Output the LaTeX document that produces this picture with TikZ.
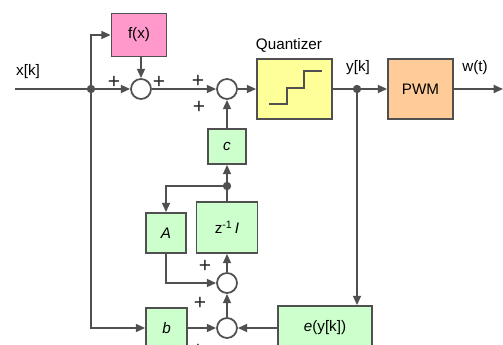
\documentclass[tikz,border=0pt]{standalone}
\usepackage{fontspec}
\setmainfont{Liberation Sans}
\usetikzlibrary{arrows.meta, positioning, calc}
\definecolor{lineGray}{HTML}{505050}
\definecolor{fxPink}{HTML}{FF99CC}
\definecolor{quantYellow}{HTML}{FFFF99}
\definecolor{pwmOrange}{HTML}{FFCC99}
\definecolor{blockGreen}{HTML}{CCFFCC}

\begin{document}
\begin{tikzpicture}[x=0.03cm, y=-0.03cm,
    block/.style={rectangle, draw=lineGray, line width=1.5pt, fill=blockGreen,
                  font=\fontsize{13}{15}\selectfont, inner sep=0pt},
    sumnode/.style={circle, draw=lineGray, line width=1.5pt, fill=white,
                    minimum size=0.6cm, inner sep=0pt},
    dot/.style={circle, fill=lineGray, minimum size=0.25cm, inner sep=0pt},
    arrow/.style={-{Triangle[length=2.8mm, width=2.4mm]}, line width=1.5pt, color=lineGray},
    wire/.style={line width=1.5pt, color=lineGray},
    lbl/.style={font=\fontsize{13}{15}\selectfont, inner sep=0pt},
    plus/.style={font=\fontsize{18}{20}\selectfont, text=black!85, inner sep=0pt},
]
\useasboundingbox (0,0) rectangle (503,345);
% blocks
\node[block, fill=fxPink, minimum width=1.65cm, minimum height=1.29cm] (fx) at (139,35) {f(x)};
\node[block, fill=quantYellow, minimum width=2.25cm, minimum height=1.8cm] (quant) at (294.5,89) {};
\node[block, fill=pwmOrange, minimum width=1.95cm, minimum height=1.8cm] (pwm) at (420.5,89) {PWM};
\node[block, minimum width=1.14cm, minimum height=1.05cm] (cblk) at (227,146.5) {\textit{c}};
\node[block, minimum width=1.2cm, minimum height=1.2cm] (ablk) at (166,233) {\textit{A}};
\node[block, minimum width=1.83cm, minimum height=1.53cm] (zblk) at (227,227.5) {z\textsuperscript{-1}\,\textit{I}};
\node[block, minimum width=1.23cm, minimum height=1.2cm] (bblk) at (166.5,328) {\textit{b}};
\node[block, minimum width=2.82cm, minimum height=1.32cm] (eblk) at (325,328) {\textit{e}(y[k])};
% staircase
\draw[line width=2.2pt, lineGray] (269,104) -- (287,104) -- (287,88) -- (304,88) -- (304,71) -- (322,71);
% sums and branch points
\node[sumnode] (sum1) at (141,89) {};
\node[sumnode] (sum2) at (227,89) {};
\node[sumnode] (sum3) at (227,283) {};
\node[sumnode] (sum4) at (227,328) {};
\node[dot] (xdot) at (91,89) {};
\node[dot] (ydot) at (357,89) {};
\node[dot] (zdot) at (227,186) {};
\coordinate (in) at (15,89);
\coordinate (out) at (503,89);
% labels
\node[lbl] (xlbl) at (28,72) {x[k]};
\node[lbl] (qlbl) at (289,45) {Quantizer};
\node[lbl] (ylbl) at (358,68) {y[k]};
\node[lbl] (wlbl) at (475,68) {w(t)};
\node[plus] (p1) at (114,82) {+};
\node[plus] (p2) at (159,82) {+};
\node[plus] (p3) at (198,81) {+};
\node[plus] (p4) at (199,107) {+};
\node[plus] (p5) at (205,266) {+};
\node[plus] (p6) at (200,303) {+};
\node[plus] (p7) at (198,350) {+};
% connectors
\draw[wire] (in) -- (xdot);
\draw[arrow] (xdot) -- (sum1);
\draw[arrow] (xdot) |- (fx.west);
\draw[arrow] (fx.south -| sum1) -- (sum1);
\draw[arrow] (sum1) -- (sum2);
\draw[arrow] (sum2) -- (quant);
\draw[wire] (quant) -- (ydot);
\draw[arrow] (ydot) -- (pwm);
\draw[arrow] (pwm) -- (out);
\draw[arrow] (ydot) -- (ydot |- eblk.north);
\draw[arrow] (eblk) -- (sum4);
\draw[arrow] (xdot) |- (bblk);
\draw[arrow] (bblk) -- (sum4);
\draw[arrow] (sum4) -- (sum3);
\draw[arrow] (sum3) -- (zblk);
\draw[wire] (zblk) -- (zdot);
\draw[arrow] (zdot) -- (cblk);
\draw[arrow] (cblk) -- (sum2);
\draw[arrow] (zdot) -| (ablk);
\draw[arrow] (ablk) |- (sum3);
\end{tikzpicture}
\end{document}
